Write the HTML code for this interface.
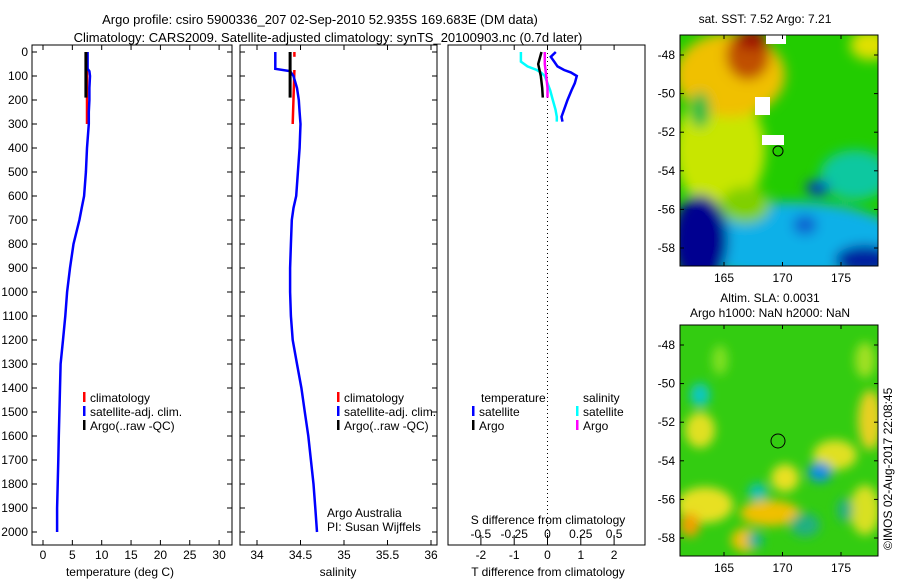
<!DOCTYPE html>
<html><head><meta charset="utf-8"><style>
body{margin:0;background:#fff;width:900px;height:580px;overflow:hidden;font-family:"Liberation Sans",sans-serif}
svg text{font-family:"Liberation Sans",sans-serif;font-size:12px;fill:#000}
</style></head><body>
<svg id="chart" width="900" height="580" viewBox="0 0 900 580">
<defs>
<filter id="bl" x="-20%" y="-20%" width="140%" height="140%"><feGaussianBlur stdDeviation="6"/></filter>
<filter id="bl2" x="-20%" y="-20%" width="140%" height="140%"><feGaussianBlur stdDeviation="5"/></filter>
<clipPath id="c1"><rect x="680" y="35" width="198" height="231"/></clipPath>
<clipPath id="c2"><rect x="680" y="325" width="198" height="231"/></clipPath>
</defs>
<text x="320" y="24" text-anchor="middle" style="font-size:13px">Argo profile: csiro 5900336_207 02-Sep-2010 52.935S 169.683E (DM data)</text>
<text x="328" y="42" text-anchor="middle" style="font-size:13px">Climatology: CARS2009. Satellite-adjusted climatology: synTS_20100903.nc (0.7d later)</text>
<g id="g1"></g>
<g id="g2"></g>
<g id="g3"></g>

<g>
<text x="765" y="23" text-anchor="middle">sat. SST: 7.52 Argo: 7.21</text>
<g clip-path="url(#c1)">
<rect x="680" y="35" width="198" height="231" fill="#22cc00"/>
<g filter="url(#bl)">
<ellipse cx="720" cy="150" rx="45" ry="60" fill="#c8e600"/>
<ellipse cx="730" cy="75" rx="55" ry="42" fill="#f0c000"/>
<ellipse cx="748" cy="55" rx="22" ry="25" fill="#c05000"/>
<ellipse cx="752" cy="40" rx="15" ry="10" fill="#a01000"/>
<ellipse cx="870" cy="45" rx="20" ry="15" fill="#e0e000"/>
<ellipse cx="700" cy="110" rx="10" ry="18" fill="#22bb44"/>
<ellipse cx="855" cy="175" rx="35" ry="25" fill="#10c8a0"/>
<ellipse cx="790" cy="240" rx="110" ry="38" fill="#10b0e8"/>
<ellipse cx="700" cy="240" rx="28" ry="45" fill="#000090"/>
<ellipse cx="865" cy="260" rx="30" ry="15" fill="#0020a0"/>
<ellipse cx="818" cy="188" rx="12" ry="8" fill="#0040c0"/>
<ellipse cx="805" cy="225" rx="12" ry="10" fill="#1060d0"/>
<ellipse cx="745" cy="205" rx="25" ry="18" fill="#80d000"/>
</g>
<rect x="755" y="97" width="15" height="18" fill="#fff"/>
<rect x="762" y="135" width="22" height="10" fill="#fff"/>
<rect x="766" y="35" width="20" height="9" fill="#fff"/>
<circle cx="778" cy="151" r="5" fill="none" stroke="#000"/>
</g>
<rect x="680" y="35" width="198" height="231" fill="none" stroke="#000"/>
<g id="m1ax"></g>
</g>

<g>
<text x="770" y="302" text-anchor="middle">Altim. SLA: 0.0031</text>
<text x="770" y="317" text-anchor="middle">Argo h1000: NaN h2000: NaN</text>
<g clip-path="url(#c2)">
<rect x="680" y="325" width="198" height="231" fill="#33cc11"/>
<g filter="url(#bl2)">
<ellipse cx="700" cy="430" rx="15" ry="18" fill="#e0e020"/>
<ellipse cx="705" cy="505" rx="28" ry="18" fill="#e8e020"/>
<ellipse cx="690" cy="525" rx="10" ry="12" fill="#f0a000"/>
<ellipse cx="745" cy="540" rx="14" ry="12" fill="#f0c000"/>
<ellipse cx="770" cy="513" rx="30" ry="13" fill="#f0c000"/>
<ellipse cx="785" cy="478" rx="14" ry="14" fill="#e8e020"/>
<ellipse cx="835" cy="455" rx="22" ry="15" fill="#e0e020"/>
<ellipse cx="870" cy="420" rx="12" ry="30" fill="#e8d020"/>
<ellipse cx="865" cy="510" rx="15" ry="25" fill="#d8e020"/>
<ellipse cx="700" cy="395" rx="10" ry="12" fill="#10c8c0"/>
<ellipse cx="820" cy="472" rx="12" ry="10" fill="#1090e0"/>
<ellipse cx="758" cy="492" rx="10" ry="9" fill="#10c0b0"/>
<ellipse cx="755" cy="540" rx="8" ry="8" fill="#10b0a0"/>
<ellipse cx="805" cy="525" rx="15" ry="12" fill="#20b080"/>
<ellipse cx="845" cy="510" rx="8" ry="12" fill="#20b080"/>
<ellipse cx="865" cy="360" rx="10" ry="18" fill="#a0e020"/>
<ellipse cx="720" cy="360" rx="8" ry="15" fill="#80e020"/>
</g>
<circle cx="778" cy="441" r="7" fill="none" stroke="#000"/>
</g>
<rect x="680" y="325" width="198" height="231" fill="none" stroke="#000"/>
<g id="m2ax"></g>
<text transform="translate(892,550) rotate(-90)">©IMOS 02-Aug-2017 22:08:45</text>
</g>
</svg>
<script>
// temperature / salinity profile data (depth in m)
const satDepth=[0,70,80,100,150,200,250,300,400,500,600,650,700,800,900,1000,1100,1200,1300,1400,1500,1600,1700,1800,1900,2000];
const satTemp=[7.6,7.6,7.9,8.0,7.9,7.9,7.8,7.8,7.5,7.3,7.0,6.6,6.2,5.2,4.6,4.1,3.8,3.4,3.0,2.9,2.8,2.7,2.6,2.5,2.4,2.4];
const satSal=[34.21,34.21,34.38,34.42,34.46,34.48,34.49,34.50,34.49,34.47,34.45,34.42,34.40,34.39,34.38,34.38,34.39,34.41,34.46,34.51,34.55,34.59,34.62,34.65,34.67,34.69];
const climDepth=[75,300];
const climTemp=[7.5,7.5];
const climSal=[34.43,34.41];
const argoDepth=[0,190];
const argoTemp=[7.3,7.3];
const argoSal=[34.38,34.38];
// difference data (upper 300 m)
const diffDepth=[0,20,40,60,75,85,100,130,160,200,240,270,290];
const tDiffSat=[0.25,0.1,0.2,0.3,0.5,0.7,0.88,0.82,0.72,0.6,0.5,0.42,0.45];
const sDiffSat=[-0.2,-0.2,-0.2,-0.15,-0.08,-0.05,-0.02,0.0,0.02,0.04,0.06,0.07,0.07];
const aDiffDepth=[0,50,100,150,190];
const tDiffArgo=[-0.18,-0.28,-0.2,-0.16,-0.14];
const sDiffArgo=[-0.02,-0.02,-0.01,0.0,0.0];
const depthTicks=[0,100,200,300,400,500,600,700,800,900,1000,1100,1200,1300,1400,1500,1600,1700,1800,1900,2000];
const tempTicks=[0,5,10,15,20,25,30];
const salTicks=[34,34.5,35,35.5,36];
const tdTicks=[-2,-1,0,1,2];
const sdTicks=[-0.5,-0.25,0,0.25,0.5];
const latTicks=[-48,-50,-52,-54,-56,-58];
const lonTicks=[165,170,175];

const NS='http://www.w3.org/2000/svg';
function mk(p,t,a){const e=document.createElementNS(NS,t);for(const k in a)e.setAttribute(k,a[k]);p.appendChild(e);return e;}
const yD=d=>52+d*0.24;
const PT=45,PB=545;
const xT=v=>43+v*5.87, xS=v=>257+(v-34)*87, xTD=v=>547.5+v*33.3, xSD=v=>547.5+v*133.2;

function frame(g,x0,x1,name){const r=mk(g,'rect',{x:x0,y:PT,width:x1-x0,height:PB-PT,fill:'none',stroke:'#000'});
 depthTicks.forEach(d=>{mk(g,'line',{x1:x0,x2:x0+5,y1:yD(d),y2:yD(d),stroke:'#000'});mk(g,'line',{x1:x1,x2:x1-5,y1:yD(d),y2:yD(d),stroke:'#000'});});}
function xticks(g,ticks,fx,y,fmt){ticks.forEach(v=>{const x=fx(v);mk(g,'line',{x1:x,x2:x,y1:PB,y2:PB-5,stroke:'#000'});mk(g,'line',{x1:x,x2:x,y1:PT,y2:PT+5,stroke:'#000'});
 const t=mk(g,'text',{x:x,y:y,'text-anchor':'middle'});t.textContent=fmt?fmt(v):v;});}
function line(g,ds,vs,fx,col,name,w){const pts=ds.map((d,i)=>fx(vs[i]).toFixed(1)+','+yD(d).toFixed(1)).join(' ');const p=mk(g,'polyline',{points:pts,fill:'none',stroke:col,'stroke-width':w||2.5});
 }
function txt(g,x,y,s,name,anchor){const t=mk(g,'text',{x:x,y:y,'text-anchor':anchor||'start'});t.textContent=s;return t;}
function legend(g,x,y,items){items.forEach((it,i)=>{mk(g,'rect',{x:x,y:y+i*14-10,width:2.5,height:10,fill:it[1]});txt(g,x+7,y+i*14,it[0],'legend-entry');});}

const g1=document.getElementById('g1');
frame(g1,32,232,'temperature-axes');
depthTicks.forEach(d=>txt(g1,28,yD(d)+4,String(d),'y-tick-label','end'));
xticks(g1,tempTicks,xT,559);
txt(g1,120,576,'temperature (deg C)','x-axis-title','middle');
line(g1,climDepth,climTemp,xT,'#f00','clim-temp-line');
line(g1,satDepth,satTemp,xT,'#00f','sat-temp-line');
line(g1,argoDepth,argoTemp,xT,'#000','argo-temp-line',3);
legend(g1,83,402,[['climatology','#f00'],['satellite-adj. clim.','#00f'],['Argo(..raw -QC)','#000']]);

const g2=document.getElementById('g2');
frame(g2,240,437,'salinity-axes');
xticks(g2,salTicks,xS,559);
txt(g2,338,576,'salinity','x-axis-title','middle');
line(g2,climDepth,climSal,xS,'#f00','clim-sal-line');
line(g2,[0,20],[34.43,34.43],xS,'#f00','clim-sal-top');
line(g2,satDepth,satSal,xS,'#00f','sat-sal-line');
line(g2,argoDepth,argoSal,xS,'#000','argo-sal-line',3);
legend(g2,337,402,[['climatology','#f00'],['satellite-adj. clim.','#00f'],['Argo(..raw -QC)','#000']]);
txt(g2,327,517,'Argo Australia','credit-line-1');
txt(g2,327,531,'PI: Susan Wijffels','credit-line-2');

const g3=document.getElementById('g3');
mk(g3,'rect',{x:448,y:PT,width:197,height:PB-PT,fill:'none',stroke:'#000'});
mk(g3,'line',{x1:547.5,x2:547.5,y1:PT,y2:PB,stroke:'#000','stroke-dasharray':'1,3'});
tdTicks.forEach(v=>{const x=xTD(v);mk(g3,'line',{x1:x,x2:x,y1:PT,y2:PT+5,stroke:'#000'});mk(g3,'line',{x1:x,x2:x,y1:PB,y2:PB-5,stroke:'#000'});txt(g3,x,559,String(v),'t-diff-tick-label','middle');});
sdTicks.forEach(v=>{const x=xSD(v);mk(g3,'line',{x1:x,x2:x,y1:PB-5,y2:PB-10,stroke:'#000'});txt(g3,x,538,String(v),'s-diff-tick-label','middle');});
txt(g3,548,524,'S difference from climatology','s-diff-axis-title','middle');
txt(g3,548,576,'T difference from climatology','t-diff-axis-title','middle');
line(g3,diffDepth,sDiffSat,xSD,'#0ff','s-diff-sat-line');
line(g3,diffDepth,tDiffSat,xTD,'#00f','t-diff-sat-line');
line(g3,aDiffDepth,tDiffArgo,xTD,'#000','t-diff-argo-line');
line(g3,aDiffDepth,sDiffArgo,xSD,'#f0f','s-diff-argo-line');
txt(g3,481,402,'temperature','legend-title-t');
txt(g3,583,402,'salinity','legend-title-s');
legend(g3,472,416,[['satellite','#00f'],['Argo','#000']]);
legend(g3,576,416,[['satellite','#0ff'],['Argo','#f0f']]);

function mapAxes(id,y0,y1){const g=document.getElementById(id);const yl=v=>y0+20+(-48-v)*19.3*(y1-y0)/231;
 latTicks.forEach(v=>{const y=yl(v);mk(g,'line',{x1:680,x2:684,y1:y,y2:y,stroke:'#000'});mk(g,'line',{x1:878,x2:874,y1:y,y2:y,stroke:'#000'});txt(g,675,y+4,String(v),'lat-tick-label','end');});
 lonTicks.forEach(v=>{const x=724+(v-165)*11.7;mk(g,'line',{x1:x,x2:x,y1:y1,y2:y1-4,stroke:'#000'});mk(g,'line',{x1:x,x2:x,y1:y0,y2:y0+4,stroke:'#000'});txt(g,x,y1+16,String(v),'lon-tick-label','middle');});}
mapAxes('m1ax',35,266);mapAxes('m2ax',325,556);
</script>
</body></html>
